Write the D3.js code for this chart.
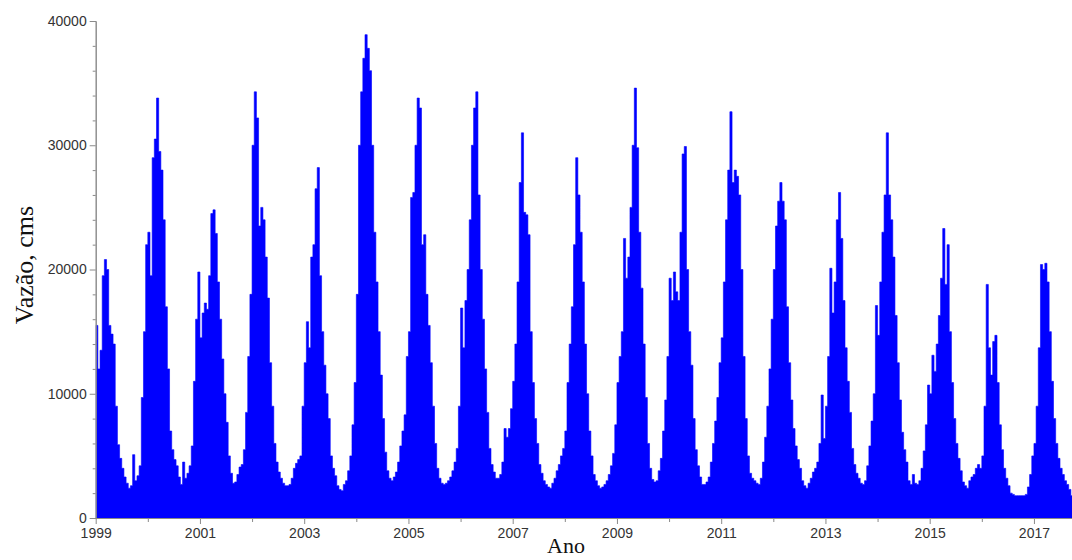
<!DOCTYPE html>
<html><head><meta charset="utf-8">
<script src="https://cdn.jsdelivr.net/npm/d3@7"></script>
<style>body{margin:0;background:#fff;overflow:hidden}</style>
</head><body><svg id="c" width="1072" height="560"></svg>
<script>
// Semi-monthly discharge values (cms), one array per year
const q1999 = [15500,12000,13500,19500,20800,20000,15500,14800,14000,9000,5900,4800,4000,3300,2800,2400,2600,5100,3000,3400,4200,9700,15000,22000];
const q2000 = [23000,19500,29000,30500,33800,29500,28000,24000,17000,12000,7000,5500,4700,4200,3300,2700,4500,3200,3600,4200,5800,11000,16000,19800];
const q2001 = [14500,16500,17300,16800,19500,24500,24800,22900,19000,16000,12800,10000,7700,5000,3600,2800,2900,3500,4100,4300,5500,8500,13000,18000];
const q2002 = [30000,34300,32200,23500,25000,24000,21000,17700,12500,9000,6000,4500,3700,3200,2800,2600,2600,2700,3200,4000,4400,4700,5000,9000];
const q2003 = [12500,15800,13700,21000,22000,26500,28200,19500,15000,12300,10000,8000,5000,4000,3400,2600,2300,2200,2700,3000,3800,5000,7500,10900];
const q2004 = [18000,30000,34300,37000,38900,37800,36000,30000,23000,19000,15000,11500,8000,5300,3800,3200,3000,3300,3700,4500,5800,7000,8300,13000];
const q2005 = [15000,25800,26200,30000,33800,33000,22000,22800,18000,15500,12500,9000,6000,4000,3200,2800,2700,2800,3000,3300,3800,4500,5600,9000];
const q2006 = [16900,13700,17500,20000,24000,30000,33000,34300,26000,20000,16000,12000,8500,5600,4300,3700,3200,3200,3500,4500,7200,6500,7200,8800];
const q2007 = [11000,14000,19000,27000,31000,24600,24400,22800,15000,10900,8000,6000,4300,3600,3000,2700,2500,2400,2800,3200,3800,4300,5000,5600];
const q2008 = [7000,10900,14000,17000,22000,29000,26000,23000,19000,14000,10000,7000,5000,3500,3000,2600,2400,2500,2700,3000,3500,4200,5200,7500];
const q2009 = [10900,13000,15000,22500,19300,21000,25000,30000,34600,29800,23000,18500,14000,9700,6000,4000,3100,2900,3000,3800,4800,7000,9500,13000];
const q2010 = [19300,17500,19800,18200,17500,23000,29300,29900,20000,15000,12300,8000,5500,4200,3300,2700,2700,2900,3300,4500,6000,7800,9700,12500];
const q2011 = [14500,19000,24000,28000,32700,27000,28000,27500,26000,20000,13000,8000,5000,3600,3200,3000,2800,2700,3200,4500,6500,9000,12000,16000];
const q2012 = [20000,23500,25500,27000,25500,24000,17000,12500,9500,7200,5800,4700,4000,3000,2600,2400,2800,3200,3700,4000,4500,6000,9900,6400];
const q2013 = [9000,13000,20100,16500,19000,24000,26200,22500,17500,13700,11000,8500,5600,4300,3600,3200,2800,2700,3000,4200,5800,7800,10000,17100];
const q2014 = [14700,19000,23000,26000,31000,26000,24000,21000,16300,12500,9500,6900,5500,4500,3000,2700,3500,2800,2700,3000,4000,5400,7500,10700];
const q2015 = [10000,13100,11800,14000,16300,19300,23300,18800,22000,15000,10900,8000,6000,4800,3800,2900,2600,2400,3000,3300,3500,4000,4300,4000];
const q2016 = [5000,9000,18800,13700,11500,14200,14700,10900,7500,5500,4000,3200,2600,2000,1900,1800,1800,1800,1800,1800,1900,2500,3500,5000];
const q2017 = [6000,9000,13700,20400,20000,20500,19000,15000,11000,8000,6000,4800,4000,3500,3000,2700,2300,1800];

const years = [1999,2000,2001,2002,2003,2004,2005,2006,2007,2008,2009,2010,2011,2012,2013,2014,2015,2016,2017];
const yearSeries = [q1999,q2000,q2001,q2002,q2003,q2004,q2005,q2006,q2007,q2008,q2009,q2010,q2011,q2012,q2013,q2014,q2015,q2016,q2017];
const yMajorTicks = [0,10000,20000,30000,40000];
const xLabelYears = [1999,2001,2003,2005,2007,2009,2011,2013,2015,2017];
const xMinorYears = [2000,2002,2004,2006,2008,2010,2012,2014,2016];
const yTitle = "Vazão, cms";
const xTitle = "Ano";

const data = [];
yearSeries.forEach((arr, k) => arr.forEach((v, i) => data.push({t: years[k] + i / 24, v})));
// closing step point so the final sample has its full width
data.push({t: data[data.length - 1].t + 1 / 24, v: data[data.length - 1].v});

const svg = d3.select("#c");
const x = d3.scaleLinear().domain([1999, 2017.73]).range([95.7, 1072]);
const y = d3.scaleLinear().domain([0, 40000]).range([518, 21]);

svg.append("defs").append("clipPath").attr("id", "clip")
  .append("rect").attr("x", 95.7).attr("y", 0).attr("width", 1072 - 95.7).attr("height", 518);

const area = d3.area()
  .x(d => x(d.t))
  .y0(y(0))
  .y1(d => y(d.v))
  .curve(d3.curveStepAfter);

svg.append("path")
  .datum(data)
  .attr("clip-path", "url(#clip)")
  .attr("d", area)
  .attr("fill", "#0000ff")
  .attr("stroke", "#0000ff")
  .attr("stroke-width", 0.6);

const axisColor = "#8a8a8a";
const labelColor = "#333";
function styleAxis(g) {
  g.select(".domain").attr("stroke", axisColor);
  g.selectAll(".tick line").attr("stroke", axisColor);
  g.selectAll(".tick text").attr("fill", labelColor)
    .style("font-family", "Arial, 'Liberation Sans', sans-serif").style("font-size", "14px");
}

// Y axis: minor ticks every 2000, labelled majors every 10000
const yMinor = d3.range(0, 40001, 2000).filter(v => !yMajorTicks.includes(v));
svg.append("g").attr("transform", "translate(95.7,0)")
  .call(d3.axisLeft(y).tickValues(yMinor).tickSize(3).tickFormat(""))
  .call(styleAxis);
svg.append("g").attr("transform", "translate(95.7,0)")
  .call(d3.axisLeft(y).tickValues(yMajorTicks).tickSize(6).tickPadding(3).tickSizeOuter(0).tickFormat(d3.format("d")))
  .call(styleAxis);

// X axis
svg.append("g").attr("transform", "translate(0,518)")
  .call(d3.axisBottom(x).tickValues(xMinorYears).tickSize(4).tickSizeOuter(0).tickFormat(""))
  .call(styleAxis);
svg.append("g").attr("transform", "translate(0,518)")
  .call(d3.axisBottom(x).tickValues(xLabelYears).tickSize(6).tickPadding(4).tickSizeOuter(0).tickFormat(d3.format("d")))
  .call(styleAxis);

svg.append("text")
  .attr("transform", "translate(33,265) rotate(-90)")
  .attr("text-anchor", "middle")
  .style("font-family", "'Times New Roman', 'Liberation Serif', serif")
  .style("font-size", "26px").attr("fill", "#111")
  .text(yTitle);

svg.append("text")
  .attr("x", 566).attr("y", 553)
  .attr("text-anchor", "middle")
  .style("font-family", "'Times New Roman', 'Liberation Serif', serif")
  .style("font-size", "22px").attr("fill", "#111")
  .text(xTitle);
</script>
</body></html>
